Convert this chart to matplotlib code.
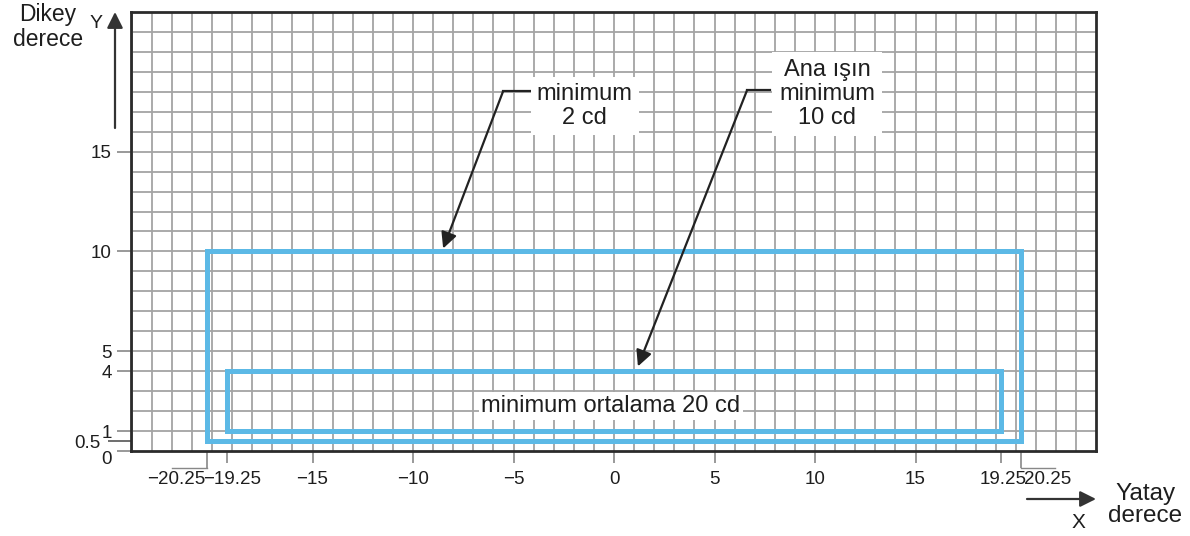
import numpy as np
import matplotlib
matplotlib.use("Agg")
import matplotlib.pyplot as plt
from matplotlib.patches import Rectangle
from matplotlib.transforms import ScaledTranslation, blended_transform_factory

plt.rcParams['font.family'] = ['Liberation Sans', 'DejaVu Sans']

# ---- data ----
outer_x = [-20.25, 20.25]
outer_y = [0.5, 10]
inner_x = [-19.25, 19.25]
inner_y = [1, 4]

x_major_ticks = [-19.25, -15, -10, -5, 0, 5, 10, 15, 19.25]
x_major_labels = ['\u221219.25', '\u221215', '\u221210', '\u22125', '0', '5', '10', '15', '19.25']
x_minor_ticks = [-20.25, 20.25]
x_minor_labels = ['\u221220.25', '20.25']

y_major_ticks = [0, 1, 4, 5, 10, 15]
y_major_labels = ['0', '1', '4', '5', '10', '15']
y_minor_ticks = [0.5]
y_minor_labels = ['0.5']

label_side = 'minimum\n2 cd'
label_main = 'Ana ışın\nminimum\n10 cd'
label_avg = 'minimum ortalama 20 cd'
ylabel_text = 'Dikey\nderece'
xlabel_text = 'Yatay\nderece'

# ---- figure ----
W, H = 1190, 536
fig = plt.figure(figsize=(W / 100, H / 100), dpi=100)
ax = fig.add_axes([131 / W, (H - 451) / H, (1096 - 131) / W, (451 - 12) / H])
ax.set_xlim(-24.03, 23.98)
ax.set_ylim(0, 22.0)

txt = '#1e1e1e'
grid_c = '#a4a4a4'
blue = '#5cb9e6'

# grid (1 degree)
ax.vlines(np.arange(-24, 24), 0, 22, colors=grid_c, lw=1.3, zorder=0)
ax.hlines(np.arange(1, 22), -24.03, 23.98, colors=grid_c, lw=1.3, zorder=0)

for s in ax.spines.values():
    s.set_color('#2b2b2b')
    s.set_linewidth(2.0)

# rectangles
ax.add_patch(Rectangle((outer_x[0], outer_y[0]), outer_x[1] - outer_x[0],
                       outer_y[1] - outer_y[0], fill=False, ec=blue, lw=3.6, zorder=3))
ax.add_patch(Rectangle((inner_x[0], inner_y[0]), inner_x[1] - inner_x[0],
                       inner_y[1] - inner_y[0], fill=False, ec=blue, lw=3.6, zorder=3))

# ticks
ax.set_xticks(x_major_ticks)
ax.set_xticklabels(x_major_labels)
ax.set_xticks(x_minor_ticks, minor=True)
ax.set_xticklabels(x_minor_labels, minor=True)
ax.set_yticks(y_major_ticks)
ax.set_yticklabels(y_major_labels)
ax.set_yticks(y_minor_ticks, minor=True)
ax.set_yticklabels(y_minor_labels, minor=True)

ax.tick_params(axis='x', which='major', length=8.5, width=1.2, color='#888888',
               pad=6, labelsize=13.5, labelcolor=txt)
ax.tick_params(axis='x', which='minor', length=12, width=1.2, color='#888888',
               pad=2.5, labelsize=13.5, labelcolor=txt)
ax.tick_params(axis='y', which='major', length=10, width=1.2, color='#888888',
               pad=4, labelsize=13.5, labelcolor=txt)
ax.tick_params(axis='y', which='minor', length=16.5, width=1.2, color='#555555',
               pad=5.5, labelsize=13.5, labelcolor=txt)

fig.canvas.draw()
for lab in ax.get_yticklabels():
    if lab.get_text() == '0':
        lab.set_transform(lab.get_transform() + ScaledTranslation(0, -7 / 100, fig.dpi_scale_trans))
for lab in ax.get_xticklabels(minor=True):
    dx = -31 if lab.get_text().startswith('\u2212') else 27
    lab.set_transform(lab.get_transform() + ScaledTranslation(dx / 100, 0, fig.dpi_scale_trans))
for lab in ax.get_xticklabels():
    if lab.get_text() in ('\u221219.25', '19.25'):
        dx = 5 if lab.get_text().startswith('\u2212') else 2
        lab.set_transform(lab.get_transform() + ScaledTranslation(dx / 100, 0, fig.dpi_scale_trans))

# brackets under the +-20.25 ticks
bt = blended_transform_factory(ax.transData, ax.transAxes)
yb = -17 / 439
ax.plot([x_minor_ticks[0], -22.0], [yb, yb], color='#888888', lw=1.0, transform=bt, clip_on=False)
ax.plot([x_minor_ticks[1], 21.94], [yb, yb], color='#888888', lw=1.0, transform=bt, clip_on=False)

# annotations
tbox = dict(boxstyle='square,pad=0.25', facecolor='white', edgecolor='none')
ax.text(-1.45, 17.3, label_side, ha='center', va='center', fontsize=17,
        color=txt, linespacing=1.1, bbox=tbox, zorder=5)
ax.plot([-3.68, -5.52], [18.02, 18.02], color='#222222', lw=1.6, zorder=4)
ax.annotate('', xy=(-8.5, 10.15), xytext=(-5.52, 18.02),
            arrowprops=dict(arrowstyle='-|>', color='#222222', lw=1.6,
                            mutation_scale=24, shrinkA=0, shrinkB=0), zorder=4)

ax.text(10.6, 17.9, label_main, ha='center', va='center', fontsize=17,
        color=txt, linespacing=1.1,
        bbox=dict(boxstyle='square,pad=0.3', facecolor='white', edgecolor='none'), zorder=5)
ax.plot([7.76, 6.62], [18.08, 18.08], color='#222222', lw=1.6, zorder=4)
ax.annotate('', xy=(1.19, 4.24), xytext=(6.62, 18.08),
            arrowprops=dict(arrowstyle='-|>', color='#222222', lw=1.6,
                            mutation_scale=24, shrinkA=0, shrinkB=0), zorder=4)

ax.text(-0.15, 2.25, label_avg, ha='center', va='center', fontsize=17,
        color=txt, bbox=dict(boxstyle='square,pad=0.12', facecolor='white', edgecolor='none'),
        zorder=5)

# axis labels and arrows
fig.text(48 / W, 1 - 27 / H, ylabel_text, ha='center', va='center', fontsize=16.5,
         color=txt, linespacing=1.12)
fig.text(96 / W, 1 - 24 / H, 'Y', ha='center', va='center', fontsize=14, color=txt)
fig.text(1145 / W, 1 - 505 / H, xlabel_text, ha='center', va='center', fontsize=17.5,
         color=txt, linespacing=1.0)
fig.text(1078 / W, 1 - 522 / H, 'X', ha='center', va='center', fontsize=15, color=txt)

ax.annotate('', xy=(115, H - 12), xytext=(115, H - 128), xycoords='figure pixels',
            textcoords='figure pixels',
            arrowprops=dict(arrowstyle='-|>', color='#333333', lw=1.6,
                            mutation_scale=24, shrinkA=0, shrinkB=0))
ax.annotate('', xy=(1096, H - 499), xytext=(1027, H - 499), xycoords='figure pixels',
            textcoords='figure pixels',
            arrowprops=dict(arrowstyle='-|>', color='#333333', lw=1.6,
                            mutation_scale=24, shrinkA=0, shrinkB=0))

fig.savefig('out.png', dpi=100)
